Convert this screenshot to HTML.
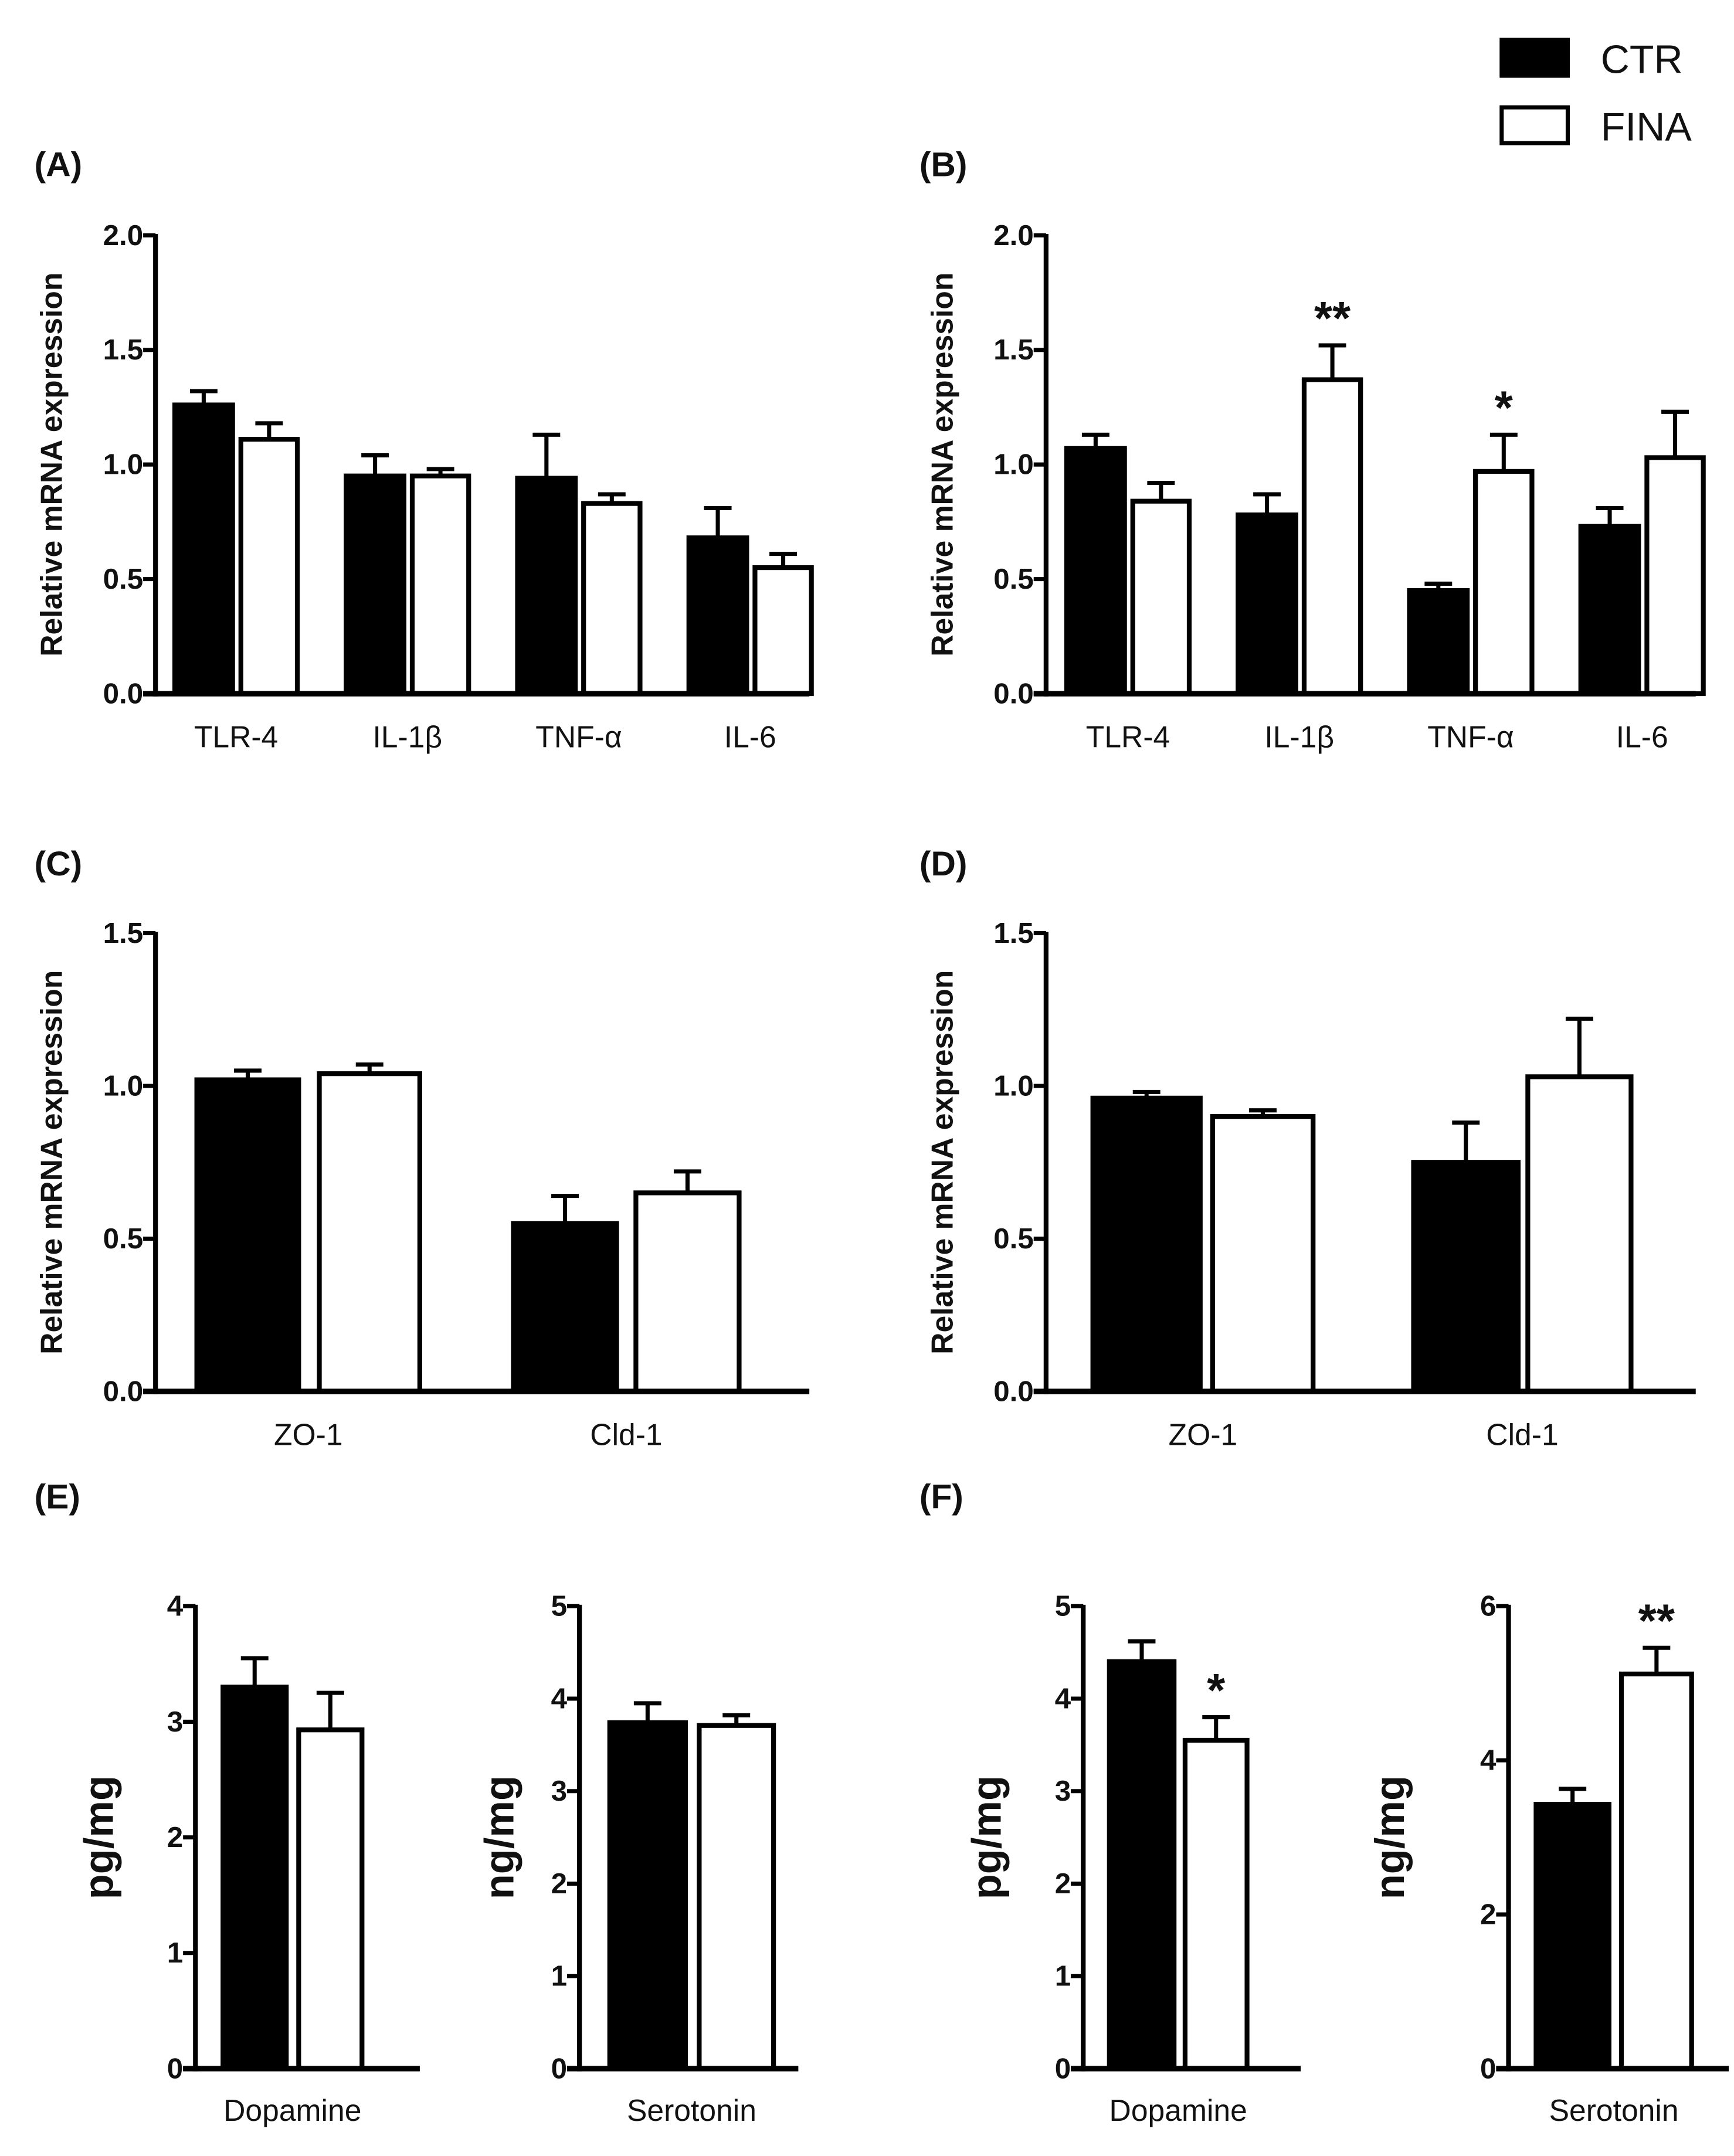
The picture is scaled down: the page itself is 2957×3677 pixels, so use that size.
<!DOCTYPE html>
<html><head><meta charset="utf-8"><style>
html,body{margin:0;padding:0;background:#fff;}
svg{display:block;}
text{font-family:"Liberation Sans",sans-serif;fill:#111;}
</style></head>
<body>
<svg id="fig" width="2957" height="3677" viewBox="0 0 1259.8 1566.5" preserveAspectRatio="none" xmlns="http://www.w3.org/2000/svg">
<g>
<rect x="1091" y="29" width="48" height="26" fill="#000" stroke="#000" stroke-width="3"/>
<text x="1163" y="53" font-size="29">CTR</text>
<rect x="1091" y="78" width="48" height="26" fill="#fff" stroke="#000" stroke-width="3"/>
<text x="1163" y="102" font-size="29">FINA</text>
</g>
</svg>
<script>
// Panel A
const catsA=["TLR-4","IL-1β","TNF-α","IL-6"];
const ctrA=[1.26,0.95,0.94,0.68];
const ctrErrA=[1.32,1.04,1.13,0.81];
const finaA=[1.11,0.95,0.83,0.55];
const finaErrA=[1.18,0.98,0.87,0.61];
// Panel B
const catsB=["TLR-4","IL-1β","TNF-α","IL-6"];
const ctrB=[1.07,0.78,0.45,0.73];
const ctrErrB=[1.13,0.87,0.48,0.81];
const finaB=[0.84,1.37,0.97,1.03];
const finaErrB=[0.92,1.52,1.13,1.23];
const starsB=["","**","*",""];
// Panel C
const catsC=["ZO-1","Cld-1"];
const ctrC=[1.02,0.55];
const ctrErrC=[1.05,0.64];
const finaC=[1.04,0.65];
const finaErrC=[1.07,0.72];
// Panel D
const catsD=["ZO-1","Cld-1"];
const ctrD=[0.96,0.75];
const ctrErrD=[0.98,0.88];
const finaD=[0.90,1.03];
const finaErrD=[0.92,1.22];
// Panel E
const ctrEdopa=[3.3]; const ctrErrEdopa=[3.55];
const finaEdopa=[2.93]; const finaErrEdopa=[3.25];
const ctrEsero=[3.74]; const ctrErrEsero=[3.95];
const finaEsero=[3.71]; const finaErrEsero=[3.82];
// Panel F
const ctrFdopa=[4.4]; const ctrErrFdopa=[4.62];
const finaFdopa=[3.55]; const finaErrFdopa=[3.8];
const ctrFsero=[3.43]; const ctrErrFsero=[3.63];
const finaFsero=[5.12]; const finaErrFsero=[5.46];
const ticks20=["0.0","0.5","1.0","1.5","2.0"];
const ticks15=["0.0","0.5","1.0","1.5"];
const ticks4=["0","1","2","3","4"];
const ticks5=["0","1","2","3","4","5"];
const ticks6=["0","2","4","6"];

const NS="http://www.w3.org/2000/svg";
const svg=document.getElementById('fig');
function mk(tag,attrs,parent){const e=document.createElementNS(NS,tag);for(const k in attrs)e.setAttribute(k,attrs[k]);(parent||svg).appendChild(e);return e;}

function panel(o){
  const g=mk('g',{});
  
  
  const ymax=parseFloat(o.ticks[o.ticks.length-1]);
  const Y=v=>o.y0-(v/ymax)*(o.y0-o.ytop);
  if(o.letter){
    const pl=mk('text',{x:o.lx,y:o.ly,'font-size':25,'font-weight':'bold'},g);
    pl.textContent=o.letter;
    
    
  }
  const yt=mk('text',{x:0,y:0,'font-size':o.ytSize,'font-weight':'bold','text-anchor':'middle',transform:`translate(${o.ytx},${(o.ytop+o.y0)/2}) rotate(-90)`},g);
  yt.textContent=o.ytitle;
  
  
  o.ticks.forEach(t=>{
    const y=Y(parseFloat(t));
    const tl=mk('line',{x1:o.ax-9,x2:o.ax,y1:y,y2:y,stroke:'#000','stroke-width':3},g);
    
    
    const tt=mk('text',{x:o.ax-9,y:y+7,'font-size':21,'font-weight':'bold','text-anchor':'end'},g);
    tt.textContent=t;
    
    
  });
  o.groups.forEach((gr,i)=>{
    [[gr.cx,o.ctr[i],o.ctrE[i],'#000','ctr'],[gr.fx,o.fina[i],o.finaE[i],'#fff','fina']].forEach(([x,v,e,fill,k])=>{
      const w=k==='ctr'?gr.cw:gr.fw;
      const yv=Y(v);
      const el=mk('line',{x1:x+w/2,x2:x+w/2,y1:yv,y2:Y(e),stroke:'#000','stroke-width':3},g);
      
      
      const cap=mk('line',{x1:x+w/2-10,x2:x+w/2+10,y1:Y(e),y2:Y(e),stroke:'#000','stroke-width':3},g);
      
      
      const r=mk('rect',{x:x,y:yv,width:w,height:o.y0-yv,fill:fill,stroke:'#000','stroke-width':3.5},g);
      
      
    });
    if(o.stars&&o.stars[i]){
      const s=mk('text',{x:gr.fx+gr.fw/2,y:Y(o.finaE[i])-8,'font-size':34,'font-weight':'bold','text-anchor':'middle'},g);
      s.textContent=o.stars[i];
      
      
    }
    if(o.cats[i]){
      const c=mk('text',{x:(gr.cx+gr.fx+gr.fw)/2,y:o.catY,'font-size':22,'text-anchor':'middle'},g);
      c.textContent=o.cats[i];
      
      
    }
  });
  const ya=mk('line',{x1:o.ax,x2:o.ax,y1:o.ytop-1,y2:o.y0+2,stroke:'#000','stroke-width':3.5},g);
  
  
  const xa=mk('line',{x1:o.ax-9,x2:o.xend,y1:o.y0,y2:o.y0,stroke:'#000','stroke-width':4},g);
  
  
}
function groups4(start){return [0,1,2,3].map(i=>({cx:start+i*124.5,cw:42,fx:start+i*124.5+48,fw:41}));}

panel({name:'panel-a',letter:'(A)',lx:25,ly:128,ax:113,ytop:171,y0:504,xend:588,ticks:ticks20,ytitle:'Relative mRNA expression',ytx:45,ytSize:22,
  cats:catsA,ctr:ctrA,ctrE:ctrErrA,fina:finaA,finaE:finaErrA,groups:groups4(127),catY:543});
panel({name:'panel-b',letter:'(B)',lx:668,ly:128,ax:760,ytop:171,y0:504,xend:1232,ticks:ticks20,ytitle:'Relative mRNA expression',ytx:692,ytSize:22,
  cats:catsB,ctr:ctrB,ctrE:ctrErrB,fina:finaB,finaE:finaErrB,groups:groups4(775),catY:543,stars:starsB});
panel({name:'panel-c',letter:'(C)',lx:25,ly:636,ax:113,ytop:678,y0:1011,xend:588,ticks:ticks15,ytitle:'Relative mRNA expression',ytx:45,ytSize:22,
  cats:catsC,ctr:ctrC,ctrE:ctrErrC,fina:finaC,finaE:finaErrC,
  groups:[{cx:143,cw:74,fx:232,fw:73},{cx:373,cw:75,fx:462,fw:75}],catY:1050});
panel({name:'panel-d',letter:'(D)',lx:668,ly:636,ax:760,ytop:678,y0:1011,xend:1232,ticks:ticks15,ytitle:'Relative mRNA expression',ytx:692,ytSize:22,
  cats:catsD,ctr:ctrD,ctrE:ctrErrD,fina:finaD,finaE:finaErrD,
  groups:[{cx:794,cw:78,fx:881,fw:73},{cx:1027,cw:76,fx:1110,fw:75}],catY:1050});
panel({name:'panel-e-dopamine',letter:'(E)',lx:25,ly:1096,ax:142,ytop:1167,y0:1503,xend:305,ticks:ticks4,ytitle:'pg/mg',ytx:82,ytSize:30,
  cats:['Dopamine'],ctr:ctrEdopa,ctrE:ctrErrEdopa,fina:finaEdopa,finaE:finaErrEdopa,
  groups:[{cx:162,cw:46,fx:217,fw:46}],catY:1541});
panel({name:'panel-e-serotonin',letter:'',lx:0,ly:0,ax:421,ytop:1167,y0:1503,xend:580,ticks:ticks5,ytitle:'ng/mg',ytx:373,ytSize:30,
  cats:['Serotonin'],ctr:ctrEsero,ctrE:ctrErrEsero,fina:finaEsero,finaE:finaErrEsero,
  groups:[{cx:443,cw:55,fx:508,fw:54}],catY:1541});
panel({name:'panel-f-dopamine',letter:'(F)',lx:668,ly:1096,ax:787,ytop:1167,y0:1503,xend:945,ticks:ticks5,ytitle:'pg/mg',ytx:727,ytSize:30,
  cats:['Dopamine'],ctr:ctrFdopa,ctrE:ctrErrFdopa,fina:finaFdopa,finaE:finaErrFdopa,
  groups:[{cx:806,cw:47,fx:861,fw:45}],catY:1541,stars:['*']});
panel({name:'panel-f-serotonin',letter:'',lx:0,ly:0,ax:1096,ytop:1167,y0:1503,xend:1256,ticks:ticks6,ytitle:'ng/mg',ytx:1020,ytSize:30,
  cats:['Serotonin'],ctr:ctrFsero,ctrE:ctrErrFsero,fina:finaFsero,finaE:finaErrFsero,
  groups:[{cx:1116,cw:53,fx:1178,fw:51}],catY:1541,stars:['**']});
</script>
</body></html>
